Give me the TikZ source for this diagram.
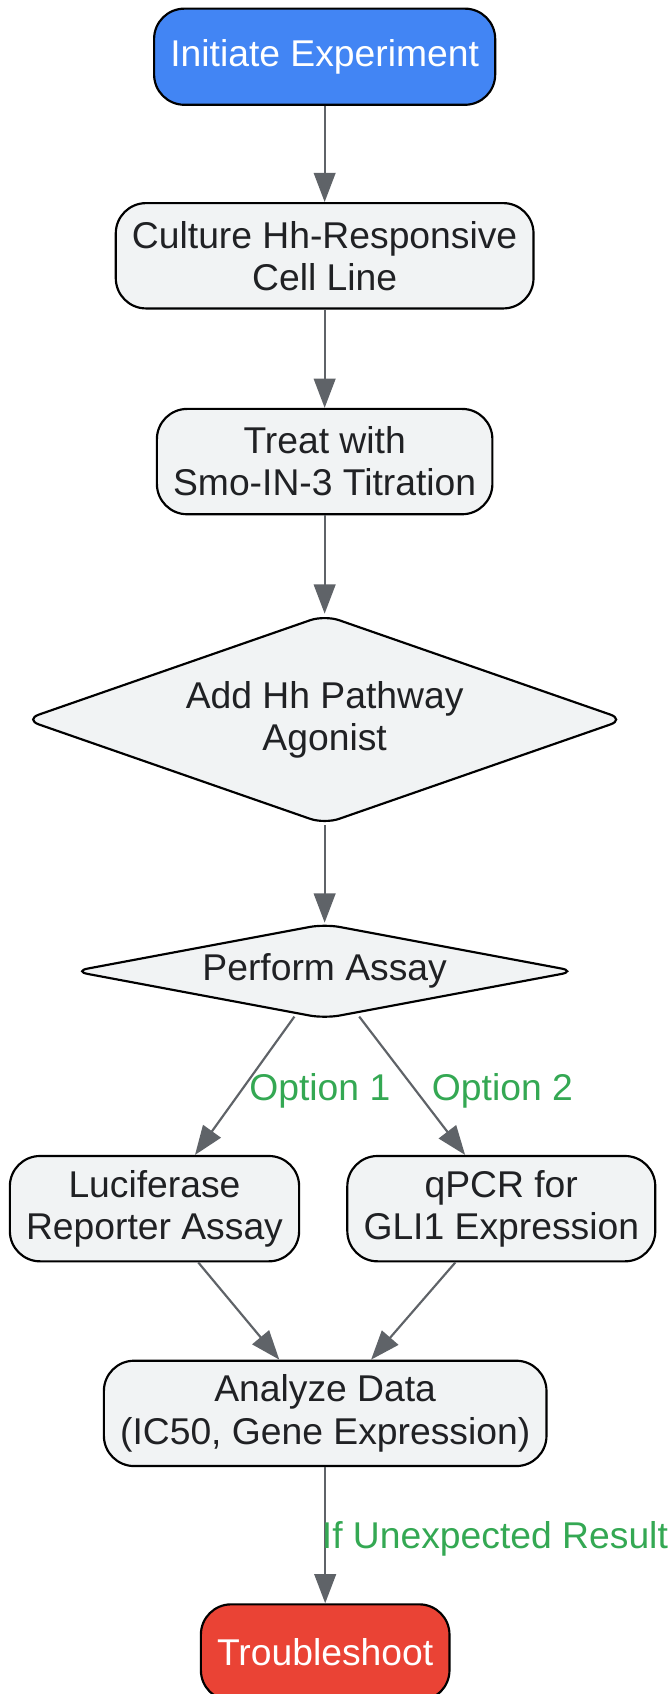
\documentclass[tikz,border=0pt]{standalone}
\usepackage{fontspec}
\setmainfont{Liberation Sans}
\usepackage{tikz}
\usetikzlibrary{shapes, arrows.meta, positioning}
\definecolor{nodefill}{HTML}{F1F3F4}
\definecolor{nodetext}{HTML}{202124}
\definecolor{edgegray}{HTML}{5F6368}
\definecolor{startblue}{HTML}{4285F4}
\definecolor{stopred}{HTML}{EA4335}
\definecolor{labelgreen}{HTML}{34A853}
\tikzset{
  block/.style={rectangle, draw, line width=2pt, rounded corners=28pt, minimum height=97.5pt, inner xsep=15pt, inner ysep=6pt, align=center, fill=nodefill, text=nodetext},
  startstop/.style={block, minimum height=89pt, text=white},
  decision/.style={diamond, draw, line width=2pt, rounded corners=14pt, inner sep=0pt, align=center, fill=nodefill, text=nodetext},
  arrow/.style={-{Triangle[length=27pt, width=20pt]}, line width=2pt, draw=edgegray},
  cond/.style={text=labelgreen}
}

\begin{document}
\begin{tikzpicture}[x=1pt, y=-1pt, every node/.style={font=\fontsize{34.5}{39}\selectfont}]
  \useasboundingbox (0,0) rectangle (621,1568);
  % Nodes
  \node[startstop, fill=startblue] (start) at (300.5,52.5) {Initiate Experiment};
  \node[block, below=89pt of start] (culture) {Culture Hh-Responsive\\Cell Line};
  \node[block, below=91pt of culture] (treat) {Treat with\\Smo-IN-3 Titration};
  \node[decision, aspect=3, minimum width=556pt, minimum height=194pt, below=91pt of treat] (agonist) {Add Hh Pathway\\Agonist};
  \node[decision, aspect=5.3, minimum width=466pt, minimum height=88pt, below=90pt of agonist] (assay) {Perform Assay};
  \node[block, below=125pt of assay, xshift=-157.5pt] (luciferase) {Luciferase\\Reporter Assay};
  \node[block, below=125pt of assay, xshift=163.5pt] (qpcr) {qPCR for\\GLI1 Expression};
  \node[block, below=90pt of luciferase, xshift=158pt] (analyze) {Analyze Data\\(IC50, Gene Expression)};
  \node[startstop, fill=stopred, below=126pt of analyze] (troubleshoot) {Troubleshoot};

  % Connections
  \draw[arrow] (start) -- (culture);
  \draw[arrow] (culture) -- (treat);
  \draw[arrow] (treat) -- (agonist);
  \draw[arrow] (agonist) -- (assay);
  \draw[arrow] ([xshift=-28pt, yshift=3pt]assay.south) -- ([xshift=37.5pt]luciferase.north) node[midway, right, cond, yshift=-5pt] {Option 1};
  \draw[arrow] ([xshift=32pt, yshift=3pt]assay.south) -- ([xshift=-33.5pt]qpcr.north) node[midway, right=14pt, cond, yshift=-5pt] {Option 2};
  \draw[arrow] ([xshift=40.5pt]luciferase.south) -- ([xshift=-42.5pt]analyze.north);
  \draw[arrow] ([xshift=-42.5pt]qpcr.south) -- ([xshift=42.5pt]analyze.north);
  \draw[arrow] (analyze) -- (troubleshoot) node[midway, right, inner sep=0pt, xshift=-4pt, yshift=-3pt, cond] {If Unexpected Result};
\end{tikzpicture}
\end{document}
